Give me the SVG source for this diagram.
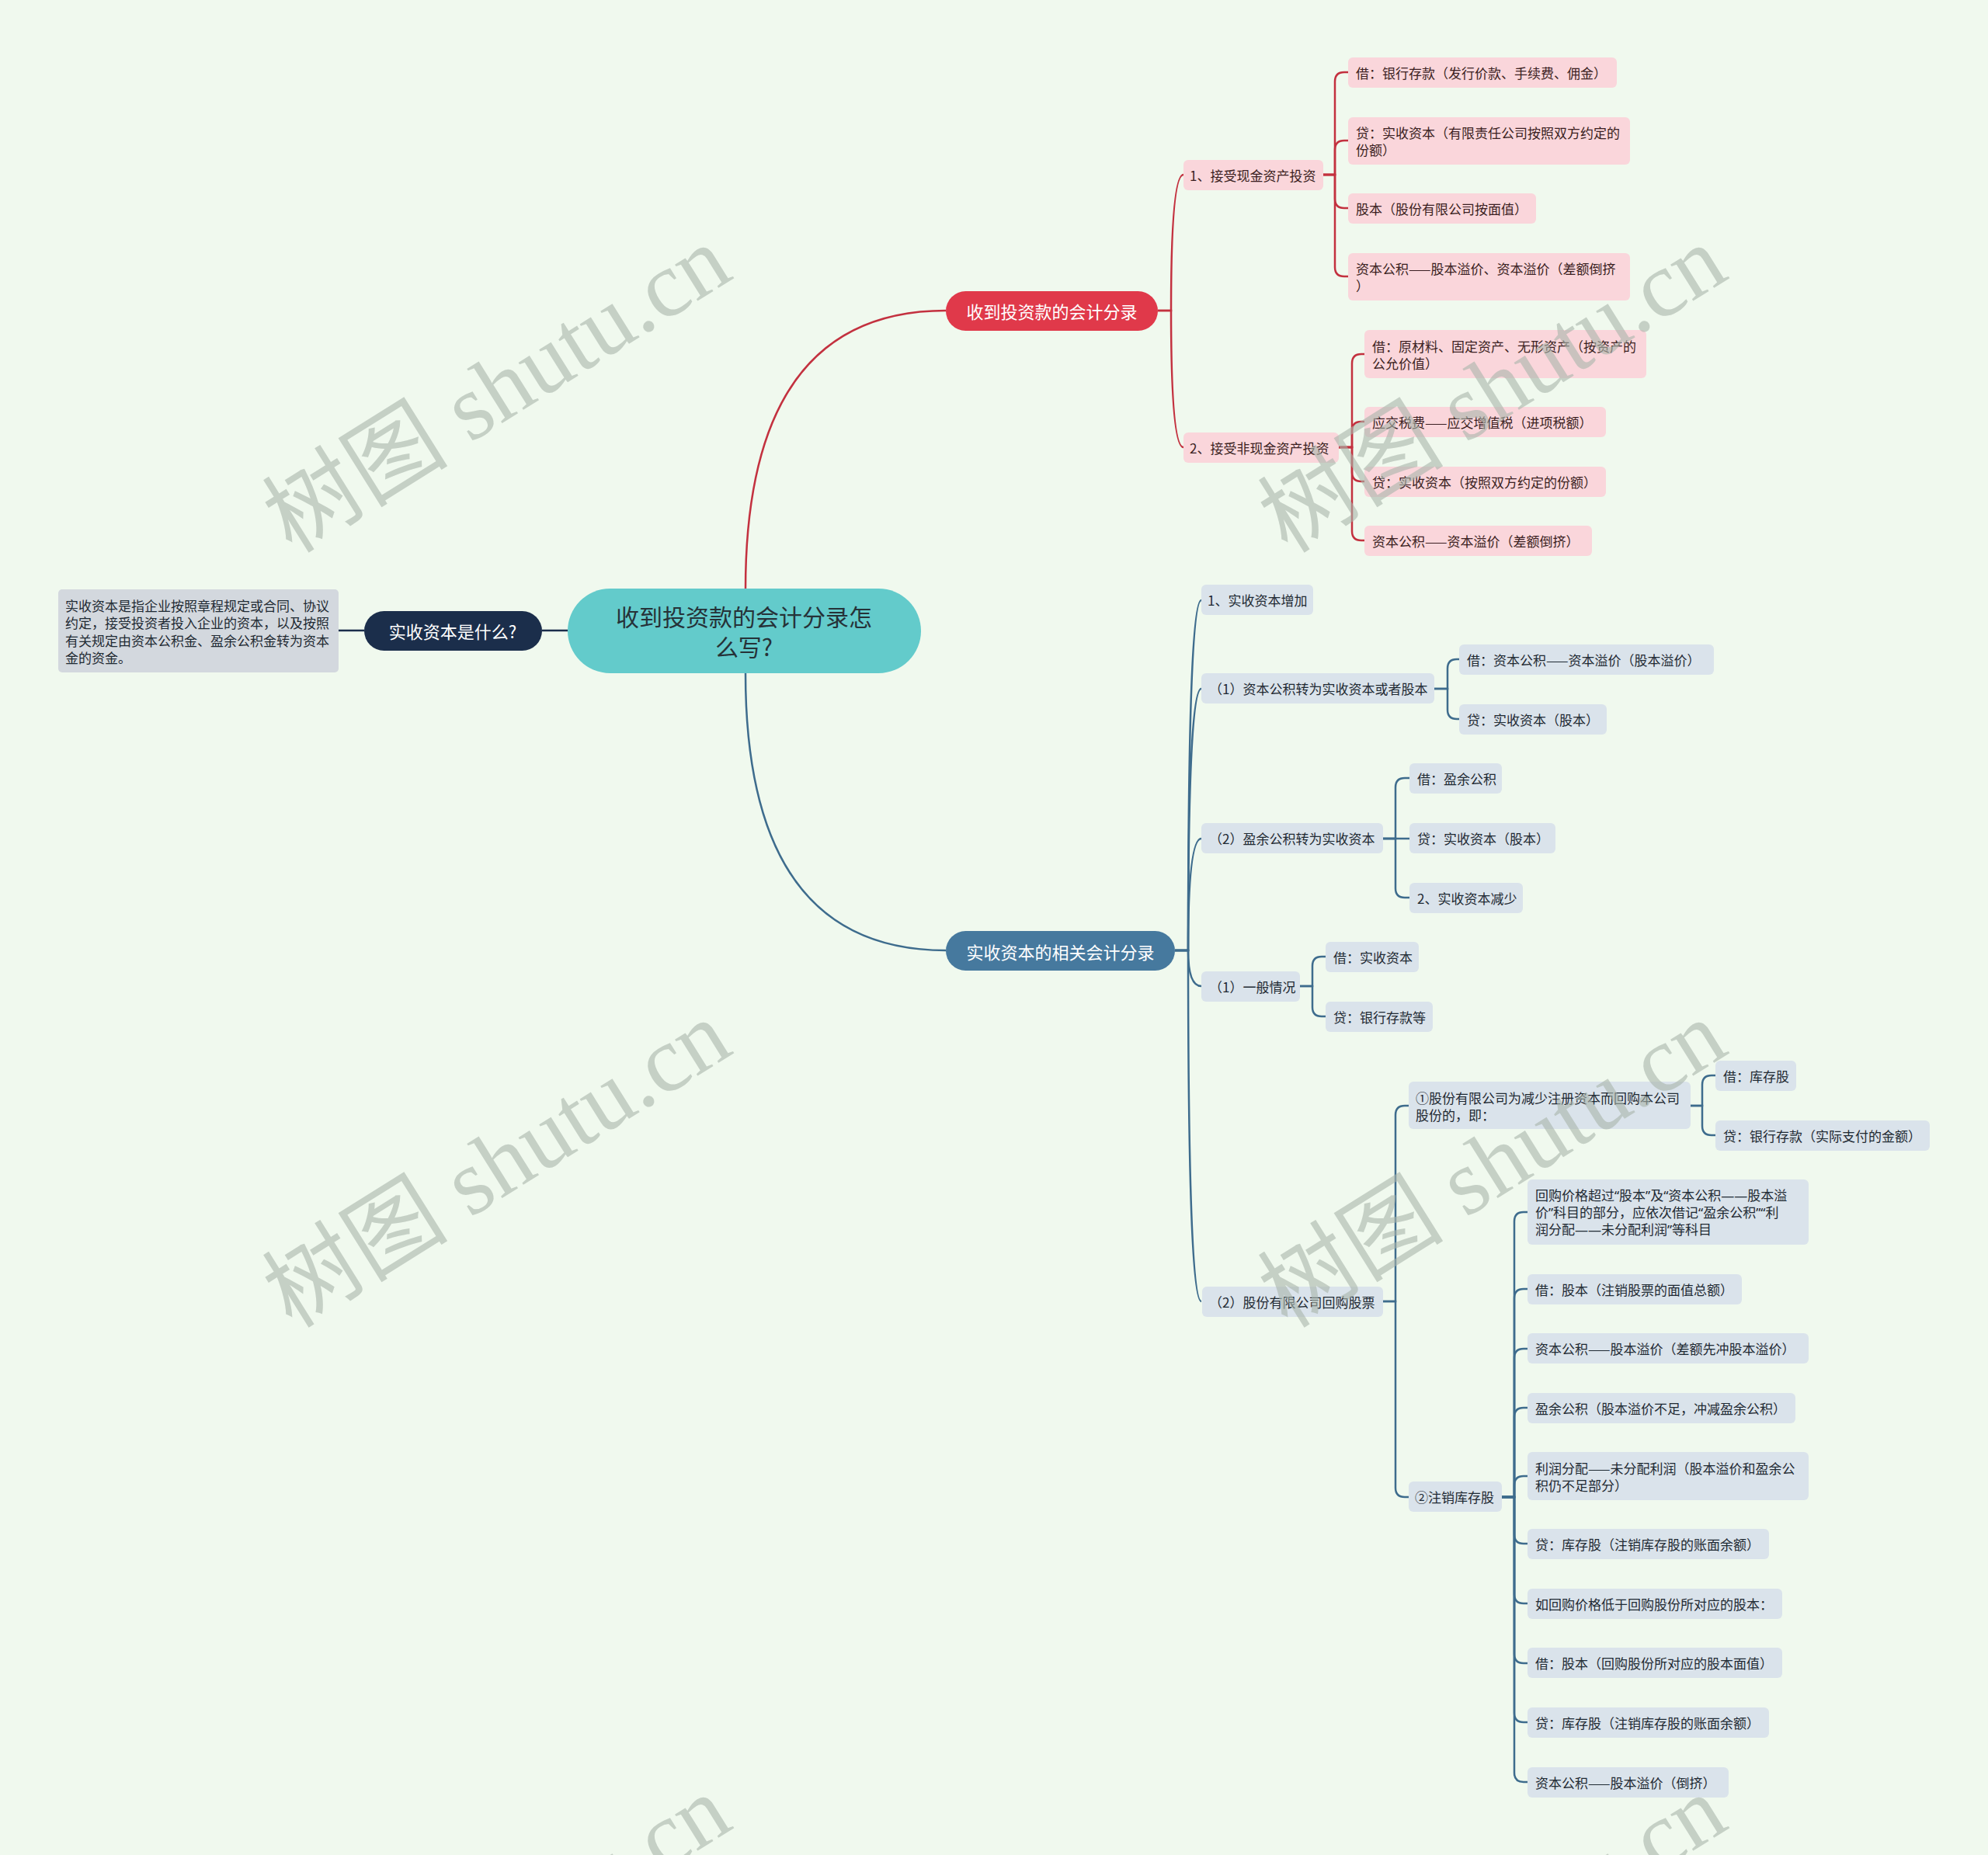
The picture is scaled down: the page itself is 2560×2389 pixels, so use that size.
<svg xmlns="http://www.w3.org/2000/svg" width="2560" height="2389" viewBox="0 0 2560 2389">
<style>
.t{font-family:"Noto Sans CJK SC","Noto Sans",sans-serif;font-size:17px;dominant-baseline:central}
.q{font-family:"Noto Sans","Noto Sans CJK SC",sans-serif}
.pk rect{fill:#fad6db}
.pk text{fill:#3b1f22}
.bl rect{fill:#dae3eb}
.bl text{fill:#1f2a33}
.cr{fill:none;stroke:#c3313f;stroke-width:2.5}
.cb{fill:none;stroke:#3e6c8d;stroke-width:2.5}
.cn{fill:none;stroke:#1b2e4b;stroke-width:2.5}
.m{font-size:22px;fill:#ffffff;text-anchor:middle}
.rt{font-size:30px;fill:#263238;text-anchor:middle}
.wm{font-family:"Liberation Serif","Noto Sans CJK SC",serif;font-size:120px;fill:#a9b5ab;opacity:0.6}
</style>
<rect x="0" y="0" width="2560" height="2389" fill="#f0f9ee"/>

<g id="connectors">
  <path class="cr" d="M960 759 Q960 400 1218 400" stroke-width="2"/>
  <path class="cb" d="M960 867 Q960 1224 1218 1224" stroke-width="2"/>
  <path class="cn" d="M436 812 H469 M698 812 H731"/>
  <path class="cr" d="M1491 400 H1508 Q1508 225 1524 225"/>
  <path class="cr" d="M1491 400 H1508 Q1508 576 1524 576"/>
  <path class="cr" d="M1704 225 H1719 V105 Q1719 93 1731 93 H1736"/>
  <path class="cr" d="M1704 225 H1719 V193 Q1719 181 1731 181 H1736"/>
  <path class="cr" d="M1704 225 H1719 V256 Q1719 268 1731 268 H1736"/>
  <path class="cr" d="M1704 225 H1719 V344 Q1719 356 1731 356 H1736"/>
  <path class="cr" d="M1724 576 H1741 V468 Q1741 456 1753 456 H1757"/>
  <path class="cr" d="M1724 576 H1741 V555 Q1741 543 1753 543 H1757"/>
  <path class="cr" d="M1724 576 H1741 V608 Q1741 620 1753 620 H1757"/>
  <path class="cr" d="M1724 576 H1741 V684 Q1741 696 1753 696 H1757"/>
  <path class="cb" d="M1513 1224 H1530 Q1530 773 1547 773"/>
  <path class="cb" d="M1513 1224 H1530 Q1530 887 1547 887"/>
  <path class="cb" d="M1513 1224 H1530 Q1530 1080 1547 1080"/>
  <path class="cb" d="M1513 1224 H1530 Q1530 1270 1547 1270"/>
  <path class="cb" d="M1513 1224 H1530 Q1530 1676 1547 1676"/>
  <path class="cb" d="M1847 887 H1864 V861 Q1864 849 1876 849 H1879"/>
  <path class="cb" d="M1847 887 H1864 V914 Q1864 926 1876 926 H1879"/>
  <path class="cb" d="M1781 1080 H1797 V1014 Q1797 1002 1809 1002 H1815"/>
  <path class="cb" d="M1781 1080 H1815"/>
  <path class="cb" d="M1781 1080 H1797 V1144 Q1797 1156 1809 1156 H1815"/>
  <path class="cb" d="M1674 1270 H1690 V1244 Q1690 1232 1702 1232 H1707"/>
  <path class="cb" d="M1674 1270 H1690 V1297 Q1690 1309 1702 1309 H1707"/>
  <path class="cb" d="M1781 1676 H1797 V1436 Q1797 1424 1809 1424 H1814"/>
  <path class="cb" d="M1781 1676 H1797 V1916 Q1797 1928 1809 1928 H1814"/>
  <path class="cb" d="M2177 1424 H2192 V1397 Q2192 1385 2204 1385 H2209"/>
  <path class="cb" d="M2177 1424 H2192 V1450 Q2192 1462 2204 1462 H2209"/>
  <path class="cb" d="M1934 1928 H1950 V1573 Q1950 1561 1962 1561 H1967"/>
  <path class="cb" d="M1934 1928 H1950 V1672 Q1950 1660 1962 1660 H1967"/>
  <path class="cb" d="M1934 1928 H1950 V1749 Q1950 1737 1962 1737 H1967"/>
  <path class="cb" d="M1934 1928 H1950 V1825 Q1950 1813 1962 1813 H1967"/>
  <path class="cb" d="M1934 1928 H1950 V1913 Q1950 1901 1962 1901 H1967"/>
  <path class="cb" d="M1934 1928 H1950 V1976 Q1950 1988 1962 1988 H1967"/>
  <path class="cb" d="M1934 1928 H1950 V2053 Q1950 2065 1962 2065 H1967"/>
  <path class="cb" d="M1934 1928 H1950 V2130 Q1950 2142 1962 2142 H1967"/>
  <path class="cb" d="M1934 1928 H1950 V2206 Q1950 2218 1962 2218 H1967"/>
  <path class="cb" d="M1934 1928 H1950 V2283 Q1950 2295 1962 2295 H1967"/>
</g>

<g id="root">
  <rect x="731" y="758" width="455" height="109" rx="54.5" fill="#63cbcb"/>
  <text class="t rt" x="958" y="793">收到投资款的会计分录怎</text>
  <text class="t rt" x="958" y="832">么写?</text>
</g>

<g id="n-what">
  <rect x="469" y="787" width="229" height="51" rx="25.5" fill="#1b2e4b"/>
  <text class="t m" x="583" y="812">实收资本是什么?</text>
</g>
<g id="n-what-desc">
  <rect x="75" y="759" width="361" height="107" rx="5" fill="#d3d8de"/>
  <text class="t" x="84" y="779" fill="#1f2a33">实收资本是指企业按照章程规定或合同、协议</text>
  <text class="t" x="84" y="801.5" fill="#1f2a33">约定，接受投资者投入企业的资本，以及按照</text>
  <text class="t" x="84" y="824" fill="#1f2a33">有关规定由资本公积金、盈余公积金转为资本</text>
  <text class="t" x="84" y="846.5" fill="#1f2a33">金的资金。</text>
</g>

<g id="n-red">
  <rect x="1218" y="375" width="273" height="51" rx="25.5" fill="#e0394a"/>
  <text class="t m" x="1354.5" y="400">收到投资款的会计分录</text>
</g>
<g id="n-r1" class="pk">
  <rect x="1524" y="206" width="180" height="39" rx="6"/>
  <text class="t" x="1532" y="225.5">1、接受现金资产投资</text>
</g>
<g id="n-r2" class="pk">
  <rect x="1524" y="557" width="200" height="39" rx="6"/>
  <text class="t" x="1532" y="576.5">2、接受非现金资产投资</text>
</g>
<g id="n-a1" class="pk">
  <rect x="1736" y="74" width="346" height="39" rx="6"/>
  <text class="t" x="1746" y="93.5">借：银行存款（发行价款、手续费、佣金）</text>
</g>
<g id="n-a2" class="pk">
  <rect x="1736" y="151" width="363" height="61" rx="6"/>
  <text class="t" x="1746" y="170.5">贷：实收资本（有限责任公司按照双方约定的</text>
  <text class="t" x="1746" y="192.5">份额）</text>
</g>
<g id="n-a3" class="pk">
  <rect x="1736" y="249" width="242" height="39" rx="6"/>
  <text class="t" x="1746" y="268.5">股本（股份有限公司按面值）</text>
</g>
<g id="n-a4" class="pk">
  <rect x="1736" y="326" width="363" height="61" rx="6"/>
  <text class="t" x="1746" y="345.5">资本公积——股本溢价、资本溢价（差额倒挤</text>
  <text class="t" x="1746" y="367.5">）</text>
</g>
<g id="n-b1" class="pk">
  <rect x="1757" y="425" width="363" height="62" rx="6"/>
  <text class="t" x="1767" y="445">借：原材料、固定资产、无形资产（按资产的</text>
  <text class="t" x="1767" y="467">公允价值）</text>
</g>
<g id="n-b2" class="pk">
  <rect x="1757" y="524" width="311" height="39" rx="6"/>
  <text class="t" x="1767" y="543.5">应交税费——应交增值税（进项税额）</text>
</g>
<g id="n-b3" class="pk">
  <rect x="1757" y="601" width="311" height="39" rx="6"/>
  <text class="t" x="1767" y="620.5">贷：实收资本（按照双方约定的份额）</text>
</g>
<g id="n-b4" class="pk">
  <rect x="1757" y="677" width="293" height="39" rx="6"/>
  <text class="t" x="1767" y="696.5">资本公积——资本溢价（差额倒挤）</text>
</g>

<g id="n-blue">
  <rect x="1218" y="1199" width="295" height="51" rx="25.5" fill="#46799e"/>
  <text class="t m" x="1365.5" y="1224.5">实收资本的相关会计分录</text>
</g>
<g id="n-l1" class="bl">
  <rect x="1547" y="753" width="144" height="39" rx="6"/>
  <text class="t" x="1555" y="772.5">1、实收资本增加</text>
</g>
<g id="n-l2" class="bl">
  <rect x="1547" y="867" width="300" height="39" rx="6"/>
  <text class="t" x="1557" y="886.5">（1）资本公积转为实收资本或者股本</text>
</g>
<g id="n-l3" class="bl">
  <rect x="1547" y="1060" width="234" height="39" rx="6"/>
  <text class="t" x="1557" y="1079.5">（2）盈余公积转为实收资本</text>
</g>
<g id="n-l4" class="bl">
  <rect x="1547" y="1251" width="127" height="39" rx="6"/>
  <text class="t" x="1557" y="1270.5">（1）一般情况</text>
</g>
<g id="n-l5" class="bl">
  <rect x="1548" y="1657" width="233" height="39" rx="6"/>
  <text class="t" x="1557" y="1676.5">（2）股份有限公司回购股票</text>
</g>
<g id="n-c1" class="bl">
  <rect x="1879" y="830" width="328" height="39" rx="6"/>
  <text class="t" x="1889" y="849.5">借：资本公积——资本溢价（股本溢价）</text>
</g>
<g id="n-c2" class="bl">
  <rect x="1879" y="907" width="190" height="39" rx="6"/>
  <text class="t" x="1889" y="926.5">贷：实收资本（股本）</text>
</g>
<g id="n-d1" class="bl">
  <rect x="1815" y="983" width="119" height="39" rx="6"/>
  <text class="t" x="1825" y="1002.5">借：盈余公积</text>
</g>
<g id="n-d2" class="bl">
  <rect x="1815" y="1060" width="188" height="39" rx="6"/>
  <text class="t" x="1825" y="1079.5">贷：实收资本（股本）</text>
</g>
<g id="n-d3" class="bl">
  <rect x="1815" y="1137" width="146" height="39" rx="6"/>
  <text class="t" x="1825" y="1156.5">2、实收资本减少</text>
</g>
<g id="n-e1" class="bl">
  <rect x="1707" y="1213" width="120" height="39" rx="6"/>
  <text class="t" x="1717" y="1232.5">借：实收资本</text>
</g>
<g id="n-e2" class="bl">
  <rect x="1707" y="1290" width="138" height="39" rx="6"/>
  <text class="t" x="1717" y="1309.5">贷：银行存款等</text>
</g>
<g id="n-f1" class="bl">
  <rect x="1814" y="1393" width="363" height="61" rx="6"/>
  <text class="t" x="1823" y="1413">①股份有限公司为减少注册资本而回购本公司</text>
  <text class="t" x="1823" y="1435">股份的，即：</text>
</g>
<g id="n-g1" class="bl">
  <rect x="2209" y="1366" width="104" height="39" rx="6"/>
  <text class="t" x="2219" y="1385.5">借：库存股</text>
</g>
<g id="n-g2" class="bl">
  <rect x="2209" y="1443" width="276" height="39" rx="6"/>
  <text class="t" x="2219" y="1462.5">贷：银行存款（实际支付的金额）</text>
</g>
<g id="n-f2" class="bl">
  <rect x="1814" y="1908" width="120" height="39" rx="6"/>
  <text class="t" x="1822" y="1927.5">②注销库存股</text>
</g>
<g id="n-h1" class="bl">
  <rect x="1967" y="1519" width="362" height="84" rx="6"/>
  <text class="t q" x="1977" y="1539">回购价格超过“股本”及“资本公积——股本溢</text>
  <text class="t q" x="1977" y="1561">价”科目的部分，应依次借记“盈余公积”“利</text>
  <text class="t q" x="1977" y="1583">润分配——未分配利润”等科目</text>
</g>
<g id="n-h2" class="bl">
  <rect x="1967" y="1641" width="276" height="39" rx="6"/>
  <text class="t" x="1977" y="1660.5">借：股本（注销股票的面值总额）</text>
</g>
<g id="n-h3" class="bl">
  <rect x="1967" y="1717" width="362" height="39" rx="6"/>
  <text class="t" x="1977" y="1736.5">资本公积——股本溢价（差额先冲股本溢价）</text>
</g>
<g id="n-h4" class="bl">
  <rect x="1967" y="1794" width="345" height="39" rx="6"/>
  <text class="t" x="1977" y="1813.5">盈余公积（股本溢价不足，冲减盈余公积）</text>
</g>
<g id="n-h5" class="bl">
  <rect x="1967" y="1870" width="362" height="62" rx="6"/>
  <text class="t" x="1977" y="1890">利润分配——未分配利润（股本溢价和盈余公</text>
  <text class="t" x="1977" y="1912">积仍不足部分）</text>
</g>
<g id="n-h6" class="bl">
  <rect x="1967" y="1969" width="311" height="39" rx="6"/>
  <text class="t" x="1977" y="1988.5">贷：库存股（注销库存股的账面余额）</text>
</g>
<g id="n-h7" class="bl">
  <rect x="1967" y="2046" width="328" height="39" rx="6"/>
  <text class="t" x="1977" y="2065.5">如回购价格低于回购股份所对应的股本：</text>
</g>
<g id="n-h8" class="bl">
  <rect x="1967" y="2122" width="328" height="39" rx="6"/>
  <text class="t" x="1977" y="2141.5">借：股本（回购股份所对应的股本面值）</text>
</g>
<g id="n-h9" class="bl">
  <rect x="1967" y="2199" width="311" height="39" rx="6"/>
  <text class="t" x="1977" y="2218.5">贷：库存股（注销库存股的账面余额）</text>
</g>
<g id="n-h10" class="bl">
  <rect x="1967" y="2276" width="259" height="39" rx="6"/>
  <text class="t" x="1977" y="2295.5">资本公积——股本溢价（倒挤）</text>
</g>

<g id="watermarks">
  <text class="wm" transform="translate(376 714) rotate(-32)">树图 shutu.cn</text>
  <text class="wm" transform="translate(1658 714) rotate(-32)">树图 shutu.cn</text>
  <text class="wm" transform="translate(376 1712) rotate(-32)">树图 shutu.cn</text>
  <text class="wm" transform="translate(1658 1712) rotate(-32)">树图 shutu.cn</text>
  <text class="wm" transform="translate(376 2710) rotate(-32)">树图 shutu.cn</text>
  <text class="wm" transform="translate(1658 2710) rotate(-32)">树图 shutu.cn</text>
</g>
</svg>
